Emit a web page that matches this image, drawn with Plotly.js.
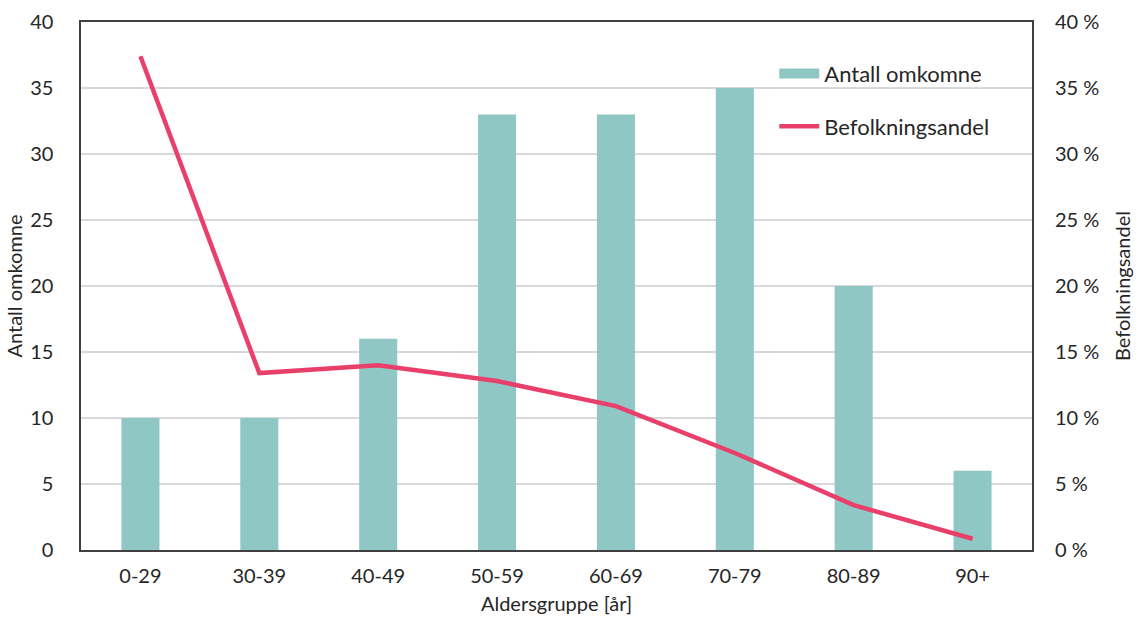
<!DOCTYPE html>
<html>
<head>
<meta charset="utf-8">
<script src="https://cdn.plot.ly/plotly-3.0.1.min.js"></script>
<style>html,body{margin:0;padding:0;background:#fff;}#chart{width:1140px;height:621px;}</style>
</head>
<body>
<div id="chart"></div>
<script>
var categories = ["0-29", "30-39", "40-49", "50-59", "60-69", "70-79", "80-89", "90+"];
var antallOmkomne = [10, 10, 16, 33, 33, 35, 20, 6];
var befolkningsandel = [37.4, 13.4, 14.0, 12.8, 10.9, 7.35, 3.4, 0.85];
var leftTicks = [0, 5, 10, 15, 20, 25, 30, 35, 40];
var rightTickLabels = leftTicks.map(function (v) { return v + " %"; });

var FONT = "Lato, 'Noto Sans', sans-serif";
var TXT = "#262626";
var TEAL = "#8fc7c4";
var RED = "#e8406a";

var traces = [
  {
    type: "bar",
    name: "Antall omkomne",
    x: categories,
    y: antallOmkomne,
    marker: {color: TEAL},
    showlegend: false
  },
  {
    type: "scatter",
    mode: "lines",
    name: "Befolkningsandel",
    x: categories,
    y: befolkningsandel,
    yaxis: "y2",
    line: {color: RED, width: 4.5},
    legend: "legend2"
  },
  {
    /* legend-only entry giving the bar series its wide rectangular swatch */
    type: "scatter",
    mode: "lines",
    name: "Antall omkomne",
    x: [null],
    y: [null],
    line: {color: TEAL, width: 12},
    legend: "legend",
    hoverinfo: "skip"
  }
];

var layout = {
  width: 1140,
  height: 621,
  margin: {l: 81, r: 108, t: 22, b: 71},
  paper_bgcolor: "#fff",
  plot_bgcolor: "#fff",
  font: {family: FONT, size: 20, color: TXT},
  bargap: 0.68,
  showlegend: true,
  xaxis: {
    type: "category",
    showline: true, linecolor: "#404040", linewidth: 1.6, mirror: true,
    ticks: "", ticklabelstandoff: 7,
    tickfont: {size: 20, color: TXT},
    title: {text: "Aldersgruppe [år]", font: {size: 20, color: TXT}, standoff: 11},
    showgrid: false, zeroline: false, fixedrange: true
  },
  yaxis: {
    range: [0, 40],
    tickvals: leftTicks,
    showline: true, linecolor: "#404040", linewidth: 1.6, mirror: true,
    ticks: "", ticklabelstandoff: 22,
    tickfont: {size: 20, color: TXT},
    showgrid: true, gridcolor: "#d9d9d9", gridwidth: 1.5,
    zeroline: false,
    title: {text: "Antall omkomne", font: {size: 20, color: TXT}, standoff: 2},
    fixedrange: true
  },
  yaxis2: {
    overlaying: "y",
    side: "right",
    range: [0, 40],
    tickvals: leftTicks,
    ticktext: rightTickLabels,
    ticks: "", ticklabelstandoff: 22,
    tickfont: {size: 20, color: TXT},
    showgrid: false, zeroline: false, showline: false,
    title: {text: "Befolkningsandel", font: {size: 20, color: TXT}, standoff: 17},
    fixedrange: true
  },
  legend: {
    x: 0.729, y: 0.942, xanchor: "left", yanchor: "top",
    bgcolor: "rgba(0,0,0,0)", borderwidth: 0,
    font: {size: 22, color: TXT}, itemwidth: 40
  },
  legend2: {
    x: 0.729, y: 0.842, xanchor: "left", yanchor: "top",
    bgcolor: "rgba(0,0,0,0)", borderwidth: 0,
    font: {size: 22, color: TXT}, itemwidth: 40
  }
};

Plotly.newPlot("chart", traces, layout, {displayModeBar: false, staticPlot: true});
</script>
</body>
</html>
